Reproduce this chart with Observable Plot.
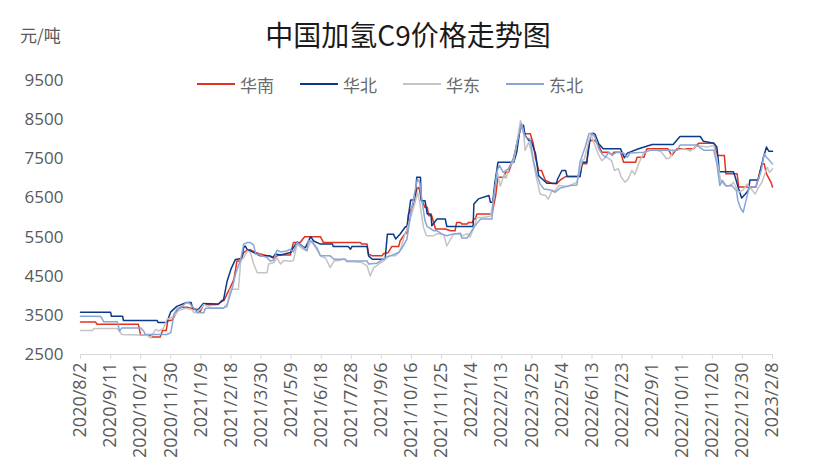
<!DOCTYPE html>
<html><head><meta charset="utf-8">
<script src="https://cdn.jsdelivr.net/npm/d3@7"></script>
<script src="https://cdn.jsdelivr.net/npm/@observablehq/plot@0.6"></script>
<style>
body{margin:0;background:#fff;}
#wrap{position:relative;width:816px;height:462px;overflow:hidden;background:#fff;}
#wrap svg{position:absolute;left:0;top:0;}
.t{position:absolute;white-space:nowrap;}
#title{left:0;width:816px;top:14px;text-align:center;font-family:"Noto Sans CJK SC",sans-serif;font-size:28px;color:#1a1a1a;}
#unit{left:20px;top:22px;font-family:"Noto Sans CJK SC",sans-serif;font-size:17px;color:#595959;}
.lg{position:absolute;top:72px;font-family:"Noto Sans CJK SC",sans-serif;font-size:17px;color:#6a6a6a;}
.sw{position:absolute;height:2px;top:83px;width:38px;}
</style></head>
<body><div id="wrap"></div>
<script>
// Series: [days since 2020/8/2, price 元/吨]
const seriesNames = ["华南", "华北", "华东", "东北"];
const seriesColors = ["#e3321f", "#0b3a8a", "#c4c4c4", "#8aa5d6"];

const huanan = [[0,3330],[20,3330],[22,3270],[77,3270],[80,2990],[93,2990],[95,2950],[106,2950],[109,3115],[114,3115],[116,3355],[122,3380],[126,3525],[129,3655],[133,3710],[142,3710],[151,3655],[155,3655],[159,3590],[164,3800],[171,3770],[183,3780],[188,3885],[191,3885],[195,4055],[199,4210],[204,4420],[208,4890],[213,4890],[217,5105],[222,5175],[226,5175],[233,5105],[239,5065],[250,5020],[257,4960],[261,5020],[266,5040],[279,5040],[283,5360],[292,5360],[298,5510],[319,5510],[323,5360],[372,5360],[374,5320],[381,5320],[383,5065],[388,5020],[401,5020],[403,5080],[409,5100],[414,5260],[423,5260],[425,5405],[431,5575],[434,5620],[436,6090],[441,6260],[445,6430],[447,6730],[450,6770],[453,6475],[458,6260],[461,6260],[463,6045],[467,6045],[470,5835],[472,5705],[485,5705],[492,5660],[498,5660],[500,5875],[505,5875],[507,5835],[514,5835],[516,5875],[521,5875],[523,5960],[525,5960],[527,6090],[547,6090],[552,6560],[555,7030],[563,7030],[565,7155],[569,7155],[574,7410],[576,7500],[580,7885],[585,8270],[587,8310],[591,8140],[598,8140],[602,7885],[605,7500],[607,7370],[609,7200],[613,7200],[618,6945],[627,6870],[633,6860],[638,6960],[645,7045],[664,7045],[667,7370],[673,7370],[676,7970],[684,7970],[689,7840],[693,7670],[702,7670],[707,7590],[709,7670],[718,7670],[722,7410],[738,7410],[740,7540],[749,7540],[753,7755],[781,7755],[786,7585],[793,7755],[815,7755],[822,7900],[842,7900],[845,7700],[847,7585],[856,7585],[858,7115],[873,7115],[875,6780],[898,6780],[906,7370],[909,7370],[912,7115],[918,6900],[920,6780]];

const huabei = [[0,3580],[40,3580],[41,3480],[56,3480],[57,3370],[102,3370],[103,3320],[114,3320],[116,3380],[120,3590],[128,3730],[141,3830],[147,3830],[149,3695],[155,3610],[163,3800],[183,3790],[190,3885],[195,4380],[200,4680],[206,4930],[214,4950],[217,5235],[219,5270],[222,5170],[228,5130],[235,5060],[239,5020],[252,5020],[256,4980],[259,5070],[266,5040],[279,5105],[283,5235],[288,5370],[296,5250],[299,5230],[306,5510],[310,5400],[319,5320],[335,5320],[336,5260],[356,5260],[359,5190],[361,5260],[381,5260],[383,5020],[388,4935],[405,4935],[408,5575],[416,5575],[419,5450],[425,5580],[432,5765],[434,5765],[439,6450],[445,6450],[447,7030],[452,7030],[453,6430],[458,6430],[461,6090],[466,6090],[467,5790],[474,5960],[485,5960],[487,5770],[522,5770],[523,6345],[529,6475],[543,6560],[545,6390],[548,6390],[551,6900],[555,7410],[576,7410],[580,7670],[585,8355],[589,8355],[591,8100],[596,7970],[599,7960],[605,7630],[609,7070],[616,6945],[620,6875],[633,6875],[634,6970],[640,7200],[645,7200],[647,7045],[664,7045],[667,7410],[673,7410],[678,8055],[681,8155],[684,8130],[689,7885],[695,7755],[718,7755],[723,7525],[727,7645],[742,7755],[760,7865],[788,7865],[797,8070],[824,8070],[828,7950],[842,7900],[846,7800],[848,7455],[849,7170],[868,7170],[870,7060],[875,6730],[879,6500],[884,6600],[888,6700],[890,6960],[901,6960],[908,7540],[912,7800],[915,7695],[920,7690]];

const huadong = [[0,3115],[16,3115],[18,3165],[49,3165],[55,3010],[89,2990],[93,2925],[100,3140],[104,3100],[110,3160],[115,3400],[122,3450],[126,3525],[131,3630],[140,3680],[148,3650],[151,3565],[159,3650],[164,3780],[173,3695],[190,3695],[195,3720],[199,4165],[210,4165],[213,4890],[217,4975],[222,5150],[226,5100],[230,4825],[235,4590],[248,4590],[250,4810],[257,4850],[261,4975],[266,4810],[270,4900],[279,4880],[283,4900],[288,5320],[295,5200],[301,5150],[306,5405],[312,5250],[319,5020],[326,4960],[332,4720],[337,4890],[346,4910],[350,4950],[354,4870],[363,4870],[374,4850],[381,4765],[385,4510],[390,4720],[396,4800],[403,4890],[410,5020],[419,5020],[425,5150],[432,5620],[434,5700],[439,6000],[443,6260],[448,6645],[451,6380],[456,5745],[460,5535],[470,5535],[474,5590],[483,5560],[487,5275],[492,5450],[496,5575],[502,5590],[509,5535],[514,5590],[518,5500],[523,5745],[527,6000],[534,6000],[545,6030],[549,6430],[554,7155],[558,6800],[563,7100],[566,7000],[569,7250],[576,7455],[580,7885],[585,8480],[589,8200],[591,7715],[596,7925],[600,7630],[605,7115],[611,6600],[618,6560],[622,6475],[627,6690],[631,6690],[636,6815],[647,6790],[660,6900],[667,7455],[670,7500],[676,7970],[679,8100],[683,7900],[688,7630],[693,7455],[699,7550],[706,7455],[710,7200],[715,7250],[719,7030],[724,6900],[728,6980],[733,7200],[737,7100],[742,7370],[748,7630],[755,7715],[766,7715],[772,7680],[779,7500],[784,7525],[788,7700],[793,7715],[802,7760],[811,7700],[819,7840],[833,7800],[842,7840],[846,7500],[851,6945],[857,6815],[864,6800],[868,6900],[875,6645],[881,6700],[886,6850],[893,6700],[897,6600],[901,6750],[906,6900],[910,7115],[913,7285],[916,7150],[920,7245]];

const dongbei = [[0,3475],[16,3475],[27,3470],[31,3335],[49,3335],[52,3100],[55,3180],[80,3180],[84,3100],[86,3010],[115,3010],[120,3060],[122,3270],[124,3525],[129,3680],[133,3680],[140,3825],[144,3825],[151,3680],[155,3565],[164,3565],[166,3680],[190,3680],[195,3780],[197,3900],[202,4210],[206,4550],[213,4935],[217,5320],[222,5360],[226,5360],[230,5300],[233,5065],[239,5040],[248,4975],[252,4890],[257,4910],[261,5165],[266,5120],[275,5150],[279,5190],[283,5120],[288,5360],[295,5250],[301,5150],[303,5405],[308,5380],[315,5200],[319,5020],[332,5020],[337,4935],[352,4935],[354,4890],[381,4890],[383,4810],[394,4830],[405,4975],[412,5020],[423,5105],[428,5235],[434,5450],[439,6090],[443,6515],[448,6985],[451,6900],[454,6430],[458,5920],[461,5765],[470,5660],[474,5660],[481,5575],[487,5535],[494,5575],[505,5600],[507,5475],[514,5475],[518,5600],[523,5745],[527,5850],[532,5960],[547,5960],[549,6430],[554,7200],[557,7330],[562,7155],[569,7250],[576,7540],[580,7880],[586,8400],[589,8150],[592,8055],[598,8000],[602,7455],[607,7070],[611,6860],[616,6730],[625,6700],[631,6645],[638,6755],[651,6815],[660,6830],[664,7410],[671,7800],[676,8140],[680,8150],[684,8050],[689,7755],[693,7630],[698,7540],[702,7660],[707,7600],[713,7670],[722,7650],[727,7540],[731,7650],[749,7670],[758,7715],[793,7715],[797,7850],[819,7850],[829,7715],[842,7715],[846,7370],[850,6815],[853,6950],[859,6800],[865,6830],[872,6690],[874,6430],[878,6220],[881,6130],[885,6450],[889,6770],[898,6790],[905,7200],[909,7630],[912,7540],[914,7500],[920,7370]];

const tickLabels = ["2020/8/2","2020/9/11","2020/10/21","2020/11/30","2021/1/9","2021/2/18","2021/3/30","2021/5/9","2021/6/18","2021/7/28","2021/9/6","2021/10/16","2021/11/25","2022/1/4","2022/2/13","2022/3/25","2022/5/4","2022/6/13","2022/7/23","2022/9/1","2022/10/11","2022/11/20","2022/12/30","2023/2/8"];
const yTicks = [2500, 3500, 4500, 5500, 6500, 7500, 8500, 9500];
const titleText = "中国加氢C9价格走势图";
const unitText = "元/吨";

const parse = d3.utcParse("%Y/%m/%d");
const tickDates = tickLabels.map(parse);
const start = tickDates[0];
const allSeries = [huanan, huabei, huadong, dongbei];
const rows = allSeries.flatMap((s, i) => s.map(([d, v]) => ({date: d3.utcDay.offset(start, d), value: v, name: seriesNames[i]})));

const chart = Plot.plot({
  width: 816, height: 462,
  marginLeft: 80, marginRight: 44, marginTop: 80, marginBottom: 108,
  style: {fontFamily: "'Open Sans', sans-serif", background: "transparent"},
  x: {type: "utc", domain: [tickDates[0], tickDates[tickDates.length - 1]]},
  y: {domain: [2500, 9500]},
  marks: [
    Plot.ruleY([2500], {stroke: "#d9d9d9", strokeWidth: 1}),
    Plot.axisX({ticks: tickDates, tickFormat: (d, i) => tickLabels[i], tickRotate: -90, tickSize: 5, tickPadding: 3, stroke: "#d9d9d9", fill: "#595959", fontSize: 18, label: null}),
    Plot.axisY({ticks: yTicks, tickFormat: d => String(d), tickSize: 0, tickPadding: 17, fill: "#595959", fontSize: 17, label: null}),
    ...seriesNames.map((n, i) => Plot.line(rows.filter(r => r.name === n), {x: "date", y: "value", stroke: seriesColors[i], strokeWidth: 1.5}))
  ]
});
const wrap = document.getElementById("wrap");
wrap.appendChild(chart);

function addText(id, cls, txt) { const e = document.createElement("div"); e.className = cls; if (id) e.id = id; e.textContent = txt; wrap.appendChild(e); return e; }
addText("title", "t", titleText);
addText("unit", "t", unitText);
const legendX = [197, 300, 403, 506];
seriesNames.forEach((n, i) => {
  const sw = document.createElement("div"); sw.className = "sw"; sw.style.left = legendX[i] + "px"; sw.style.background = seriesColors[i]; wrap.appendChild(sw);
  const t = addText(null, "lg", n); t.style.left = (legendX[i] + 43) + "px";
});
</script></body></html>
